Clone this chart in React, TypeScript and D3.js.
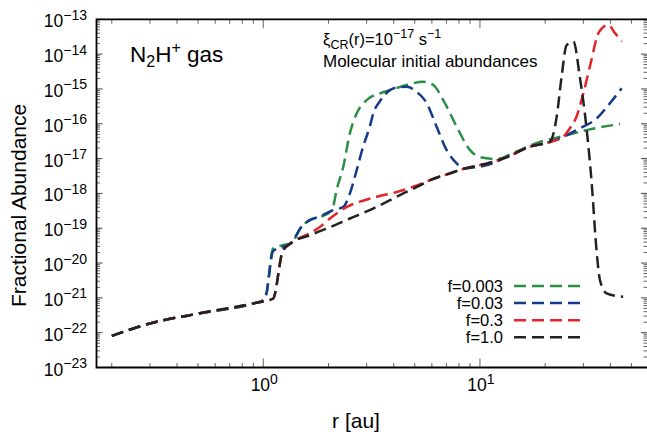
import React from 'react';
import * as d3 from 'd3';

type Pt = [number, number];

// r [au], fractional abundance
const greenData: Pt[] = [
  [0.2, 8.1e-23], [0.3, 1.84e-22], [0.51, 3.6e-22], [0.9, 6.9e-22], [1.0, 8.5e-22], [1.03, 1.2e-21],
  [1.11, 2.6e-20], [1.24, 3.3e-20], [1.34, 3.7e-20], [1.51, 1.15e-19], [1.64, 1.7e-19], [1.83, 2.1e-19],
  [2.03, 2.9e-19], [2.1, 4.1e-19], [2.18, 1.24e-18], [2.34, 5.8e-18], [2.51, 5.3e-17], [2.7, 2.0e-16],
  [3.0, 4.8e-16], [3.46, 7.5e-16], [3.85, 9.3e-16], [4.59, 1.3e-15], [5.47, 1.6e-15], [6.09, 1.3e-15],
  [6.77, 4.8e-16], [7.81, 8.2e-17], [9.0, 1.75e-17], [10.0, 1.1e-17], [12.0, 9.7e-18], [14.2, 1.45e-17],
  [18.3, 2.8e-17], [25.1, 4.7e-17], [32.1, 6.9e-17], [44.3, 9.8e-17],
];

const blueData: Pt[] = [
  [0.2, 8.1e-23], [0.3, 1.84e-22], [0.51, 3.6e-22], [0.9, 6.9e-22], [1.0, 8.5e-22], [1.03, 1.2e-21],
  [1.11, 2.2e-20], [1.34, 3.7e-20], [1.51, 1.15e-19], [1.64, 1.7e-19], [1.83, 2.2e-19], [2.1, 3.3e-19],
  [2.34, 4.1e-19], [2.51, 1.0e-18], [2.7, 4.7e-18], [2.89, 2.2e-17], [3.1, 8.2e-17], [3.22, 2.0e-16],
  [3.46, 4.5e-16], [3.85, 9.3e-16], [4.13, 1.1e-15], [4.59, 1.16e-15], [5.1, 8.3e-16], [5.68, 3.9e-16],
  [6.31, 8.2e-17], [7.02, 1.75e-17], [7.81, 7.3e-18], [8.37, 5.2e-18], [9.0, 5.4e-18], [10.8, 6.5e-18],
  [13.3, 1.1e-17], [17.0, 2.2e-17], [21.0, 3.0e-17], [24.2, 4.2e-17], [28.9, 7.4e-17], [34.6, 1.43e-16],
  [39.8, 3.9e-16], [45.1, 1.04e-15],
];

const redData: Pt[] = [
  [0.2, 8.1e-23], [0.3, 1.84e-22], [0.51, 3.6e-22], [0.9, 6.9e-22], [1.11, 9.5e-22], [1.23, 2.2e-20],
  [1.34, 3.7e-20], [1.64, 7.2e-20], [1.83, 1.1e-19], [2.03, 1.9e-19], [2.43, 4.1e-19], [2.79, 5.8e-19],
  [3.34, 8.0e-19], [4.13, 1.1e-18], [4.92, 1.55e-18], [5.88, 2.4e-18], [7.3, 3.8e-18], [8.35, 5.0e-18],
  [10.0, 6.5e-18], [11.0, 7.5e-18], [13.3, 1.1e-17], [17.0, 2.2e-17], [21.0, 3.0e-17], [24.2, 4.2e-17],
  [26.0, 7.4e-17], [27.9, 1.6e-16], [30.0, 7.5e-16], [32.7, 6.8e-15], [35.2, 4.0e-14], [39.1, 6.9e-14],
  [42.0, 4.0e-14], [45.1, 2.3e-14],
];

const blackData: Pt[] = [
  [0.2, 8.1e-23], [0.3, 1.84e-22], [0.51, 3.6e-22], [0.9, 6.9e-22], [1.11, 9.5e-22], [1.23, 2.2e-20],
  [1.34, 3.7e-20], [1.64, 6.3e-20], [2.03, 1.07e-19], [2.51, 1.9e-19], [3.1, 3.3e-19], [3.71, 5.7e-19],
  [4.43, 1.0e-18], [5.29, 1.7e-18], [5.88, 2.4e-18], [7.3, 3.8e-18], [8.35, 5.0e-18], [10.0, 6.5e-18],
  [11.0, 7.5e-18], [13.3, 1.1e-17], [17.0, 2.2e-17], [21.0, 3.0e-17], [22.6, 1.6e-16], [23.8, 2.2e-15],
  [25.1, 1.8e-14], [27.0, 2.3e-14], [28.9, 2.2e-15], [31.1, 6.6e-17], [32.7, 2.4e-18], [34.6, 1.9e-20],
  [35.8, 3.2e-21], [38.4, 1.35e-21], [45.8, 1.07e-21],
];

const seriesLabels = ['f=0.003', 'f=0.03', 'f=0.3', 'f=1.0'];
const yDecades = [-23, -22, -21, -20, -19, -18, -17, -16, -15, -14, -13];
const xDecades = [0, 1];

const colors = ['#2b8f43', '#143a8c', '#e62328', '#222222'];

const W = 647;
const H = 437;
const left = 96.5;
const right = 647;
const top = 19.3;
const bottom = 367.5;

export default function App() {
  const xs = d3.scaleLog().domain([0.17, 59]).range([left, right]);
  const ys = d3.scaleLog().domain([1e-23, 1e-13]).range([bottom, top]);
  const line = d3
    .line<Pt>()
    .x((d) => xs(d[0]))
    .y((d) => ys(d[1]))
    .curve(d3.curveMonotoneX);

  const allSeries = [greenData, blueData, redData, blackData];

  const yMinor: number[] = [];
  for (let k = -23; k < -13; k++) for (let m = 2; m <= 9; m++) yMinor.push(m * Math.pow(10, k));
  const xMinor: number[] = [];
  for (let k = -1; k <= 1; k++)
    for (let m = 2; m <= 9; m++) {
      const v = m * Math.pow(10, k);
      if (v > 0.17 && v < 59) xMinor.push(v);
    }

  const font = 'Liberation Sans, Arial, Helvetica, sans-serif';
  const dash = '12,6';

  return (
    <svg
      width={W}
      height={H}
      style={{ position: 'absolute', left: 0, top: 0, background: '#fff' }}
      fontFamily={font}
    >
      <rect x={0} y={0} width={W} height={H} fill="#fff" />
      <defs>
        <clipPath id="plotclip">
          <rect x={left} y={top} width={right - left} height={bottom - top} />
        </clipPath>
      </defs>

      {yMinor.map((v, i) => (
        <g key={'ym' + i} stroke="#666" strokeWidth={1}>
          <line x1={left} x2={left + 3.5} y1={ys(v)} y2={ys(v)} />
          <line x1={right} x2={right - 3.5} y1={ys(v)} y2={ys(v)} />
        </g>
      ))}
      {yDecades.map((k) => (
        <g key={'yM' + k} stroke="#444" strokeWidth={1}>
          <line x1={left} x2={left + 6} y1={ys(Math.pow(10, k))} y2={ys(Math.pow(10, k))} />
          <line x1={right} x2={right - 6} y1={ys(Math.pow(10, k))} y2={ys(Math.pow(10, k))} />
        </g>
      ))}
      {xMinor.map((v, i) => (
        <g key={'xm' + i} stroke="#666" strokeWidth={1}>
          <line x1={xs(v)} x2={xs(v)} y1={bottom} y2={bottom - 4.5} />
          <line x1={xs(v)} x2={xs(v)} y1={top} y2={top + 4.5} />
        </g>
      ))}
      {xDecades.map((k) => (
        <g key={'xM' + k} stroke="#666" strokeWidth={1}>
          <line x1={xs(Math.pow(10, k))} x2={xs(Math.pow(10, k))} y1={bottom} y2={bottom - 9} />
          <line x1={xs(Math.pow(10, k))} x2={xs(Math.pow(10, k))} y1={top} y2={top + 9} />
        </g>
      ))}

      <g clipPath="url(#plotclip)">
        {allSeries.map((s, i) => (
          <path
            key={'s' + i}
            d={line(s) || ''}
            fill="none"
            stroke={colors[i]}
            strokeWidth={2.5}
            strokeDasharray={dash}
          />
        ))}
      </g>

      <path
        d={`M${right},${top}H${left}V${bottom}H${right}`}
        fill="none"
        stroke="#000"
        strokeWidth={1.8}
      />

      {yDecades.map((k) => (
        <text key={'yl' + k} x={87} y={ys(Math.pow(10, k)) + 8} textAnchor="end" fontSize={17.5} fill="#000">
          10
          <tspan dy={-7.5} fontSize={14}>
            {'\u2212' + Math.abs(k)}
          </tspan>
        </text>
      ))}
      {xDecades.map((k) => (
        <text key={'xl' + k} x={xs(Math.pow(10, k)) + 1} y={391} textAnchor="middle" fontSize={17.5} fill="#000">
          10
          <tspan dy={-7.5} fontSize={14}>
            {String(k)}
          </tspan>
        </text>
      ))}

      <text
        transform={`translate(26,${(top + bottom) / 2 + 12}) rotate(-90)`}
        textAnchor="middle"
        fontSize={21}
        fill="#000"
      >
        Fractional Abundance
      </text>
      <text x={356} y={428} textAnchor="middle" fontSize={21} fill="#000">
        r [au]
      </text>

      <text x={130} y={62} fontSize={22.5} fill="#000">
        N<tspan dy={5} fontSize={16}>2</tspan>
        <tspan dy={-5}>H</tspan>
        <tspan dy={-9} fontSize={16}>+</tspan>
        <tspan dy={9}> gas</tspan>
      </text>
      <text x={323} y={45} fontSize={16.5} fill="#000">
        ξ<tspan dy={4} fontSize={12.5}>CR</tspan>
        <tspan dy={-4}>(r)=10</tspan>
        <tspan dy={-7} fontSize={12.5}>−17</tspan>
        <tspan dy={7}> s</tspan>
        <tspan dy={-7} fontSize={12.5}>−1</tspan>
      </text>
      <text x={323} y={66.5} fontSize={17} fill="#000">
        Molecular initial abundances
      </text>

      {seriesLabels.map((lab, i) => (
        <g key={'lg' + i}>
          <text x={503} y={286 + i * 17.1 + 6} textAnchor="end" fontSize={16.5} fill="#000">
            {lab}
          </text>
          <line
            x1={514}
            x2={583}
            y1={286 + i * 17.1}
            y2={286 + i * 17.1}
            stroke={colors[i]}
            strokeWidth={2.5}
            strokeDasharray={dash}
          />
        </g>
      ))}
    </svg>
  );
}
